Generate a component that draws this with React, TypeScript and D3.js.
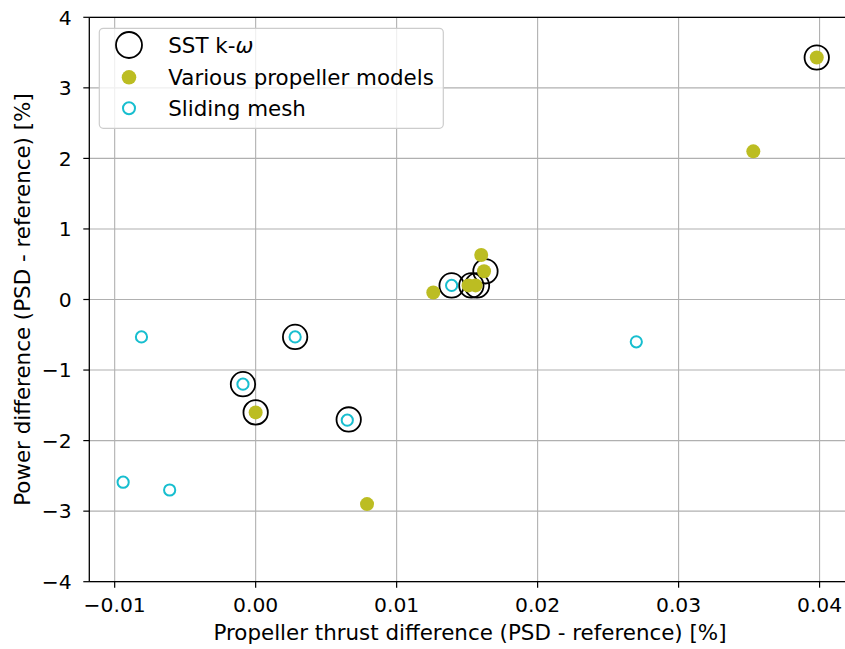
import * as d3 from "d3"

const W = 845
const H = 649
const PLOT = { left: 89.3, top: 17.3, right: 852, bottom: 581.7 }
const FONT = "DejaVu Sans, sans-serif"
const TICK_FS = 20.3
const LABEL_FS = 21.4

// SST k-omega runs (large open black circles)
const sstX = [0.0398, -0.0009, 0.0, 0.0028, 0.0066, 0.0139, 0.0153, 0.0157, 0.0163]
const sstY = [3.43, -1.2, -1.6, -0.53, -1.7, 0.2, 0.2, 0.2, 0.4]

// Various propeller models (filled olive)
const propX = [0.0398, 0.0353, 0.0, 0.0079, 0.0126, 0.0151, 0.0156, 0.016, 0.0162]
const propY = [3.43, 2.1, -1.6, -2.9, 0.1, 0.2, 0.2, 0.63, 0.4]

// Sliding mesh (small open cyan circles)
const slideX = [-0.0081, -0.0094, -0.0061, 0.027, 0.0139, -0.0009, 0.0028, 0.0065]
const slideY = [-0.53, -2.59, -2.7, -0.6, 0.2, -1.2, -0.53, -1.71]

const xTicks = [-0.01, 0.0, 0.01, 0.02, 0.03, 0.04]
const yTicks = [-4, -3, -2, -1, 0, 1, 2, 3, 4]

const OLIVE = "#bcbd22"
const CYAN = "#17becf"
const GRID = "#b0b0b0"

const fmtX = (d: number) => d.toFixed(2).replace("-", "\u2212")
const fmtY = (d: number) => String(d).replace("-", "\u2212")

export default function App() {
  const x = d3.scaleLinear().domain([-0.0118, 0.0423]).range([PLOT.left, PLOT.right])
  const y = d3.scaleLinear().domain([-4, 4]).range([PLOT.bottom, PLOT.top])

  const legendRows = [
    { label: "SST k-", omega: true, kind: "sst" },
    { label: "Various propeller models", omega: false, kind: "prop" },
    { label: "Sliding mesh", omega: false, kind: "slide" },
  ]
  const legendY = [45, 77.3, 108.3]

  return (
    <svg
      width={W}
      height={H}
      style={{ position: "absolute", left: 0, top: 0, background: "#fff" }}
      fontFamily={FONT}
    >
      <defs>
        <clipPath id="plot">
          <rect x={PLOT.left} y={PLOT.top} width={PLOT.right - PLOT.left} height={PLOT.bottom - PLOT.top} />
        </clipPath>
      </defs>

      {/* grid */}
      <g stroke={GRID} strokeWidth={1.1}>
        {xTicks.map((t) => (
          <line key={"gx" + t} x1={x(t)} x2={x(t)} y1={PLOT.top} y2={PLOT.bottom} />
        ))}
        {yTicks.map((t) => (
          <line key={"gy" + t} x1={PLOT.left} x2={PLOT.right} y1={y(t)} y2={y(t)} />
        ))}
      </g>

      {/* points */}
      <g clipPath="url(#plot)">
        {sstX.map((v, i) => (
          <circle key={"s" + i} cx={x(v)} cy={y(sstY[i])} r={12.2} fill="none" stroke="#000" strokeWidth={1.8} />
        ))}
        {propX.map((v, i) => (
          <circle key={"p" + i} cx={x(v)} cy={y(propY[i])} r={7} fill={OLIVE} />
        ))}
        {slideX.map((v, i) => (
          <circle key={"m" + i} cx={x(v)} cy={y(slideY[i])} r={5.6} fill="none" stroke={CYAN} strokeWidth={2} />
        ))}
      </g>

      {/* spines */}
      <g stroke="#000" strokeWidth={1.3} fill="none">
        <line x1={PLOT.left} x2={PLOT.left} y1={PLOT.top} y2={PLOT.bottom} />
        <line x1={PLOT.left} x2={PLOT.right} y1={PLOT.bottom} y2={PLOT.bottom} />
        <line x1={PLOT.left} x2={PLOT.right} y1={PLOT.top} y2={PLOT.top} />
      </g>

      {/* ticks */}
      <g fontSize={TICK_FS} fill="#000">
        {xTicks.map((t) => (
          <g key={"tx" + t}>
            <line x1={x(t)} x2={x(t)} y1={PLOT.bottom} y2={PLOT.bottom + 6} stroke="#000" strokeWidth={1.2} />
            <text x={x(t)} y={611.7} textAnchor="middle">{fmtX(t)}</text>
          </g>
        ))}
        {yTicks.map((t) => (
          <g key={"ty" + t}>
            <line x1={PLOT.left - 6} x2={PLOT.left} y1={y(t)} y2={y(t)} stroke="#000" strokeWidth={1.2} />
            <text x={PLOT.left - 17.6} y={y(t)} dy="0.36em" textAnchor="end">{fmtY(t)}</text>
          </g>
        ))}
      </g>

      {/* axis labels */}
      <text x={470} y={640} textAnchor="middle" fontSize={LABEL_FS}>
        Propeller thrust difference (PSD - reference) [%]
      </text>
      <text
        transform={`translate(30,${(PLOT.top + PLOT.bottom) / 2}) rotate(-90)`}
        textAnchor="middle"
        fontSize={LABEL_FS}
      >
        Power difference (PSD - reference) [%]
      </text>

      {/* legend */}
      <g>
        <rect x={99.3} y={28.3} width={344} height={100} rx={4} fill="#fff" fillOpacity={0.8} stroke="#cccccc" strokeWidth={1.2} />
        {legendRows.map((row, i) => {
          const cy = legendY[i]
          return (
            <g key={row.kind}>
              {row.kind === "sst" && <circle cx={129} cy={cy} r={13} fill="none" stroke="#000" strokeWidth={1.8} />}
              {row.kind === "prop" && <circle cx={129} cy={cy} r={7.3} fill={OLIVE} />}
              {row.kind === "slide" && <circle cx={129} cy={cy} r={6} fill="none" stroke={CYAN} strokeWidth={2} />}
              <text x={168.3} y={cy} dy="0.36em" fontSize={LABEL_FS}>
                {row.label}
                {row.omega && <tspan fontStyle="italic">ω</tspan>}
              </text>
            </g>
          )
        })}
      </g>
    </svg>
  )
}
